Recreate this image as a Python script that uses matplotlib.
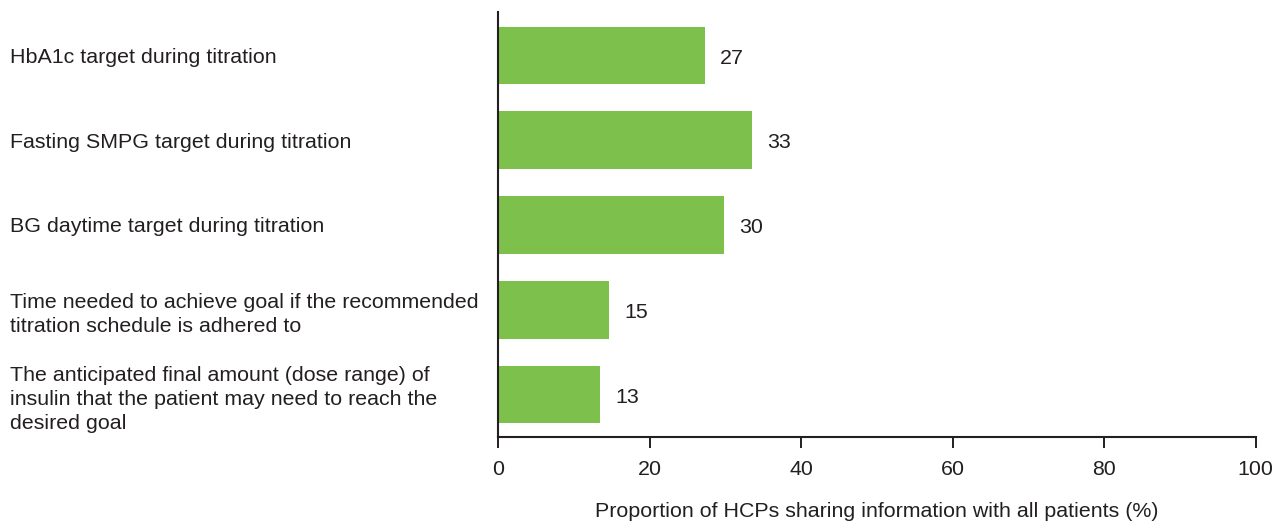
import matplotlib
matplotlib.use("Agg")
import matplotlib.pyplot as plt

categories = [
    "HbA1c target during titration",
    "Fasting SMPG target during titration",
    "BG daytime target during titration",
    "Time needed to achieve goal if the recommended\ntitration schedule is adhered to",
    "The anticipated final amount (dose range) of\ninsulin that the patient may need to reach the\ndesired goal",
]
values = [27.3, 33.5, 29.8, 14.6, 13.5]
value_labels = ["27", "33", "30", "15", "13"]
xticks = [0, 20, 40, 60, 80, 100]
xlabel = "Proportion of HCPs sharing information with all patients (%)"

plt.rcParams['font.family'] = ['Liberation Sans', 'DejaVu Sans']
txt = '#231f20'
green = '#7dc04b'
fs = 15.4

W, H = 1274, 522
fig = plt.figure(figsize=(W / 100, H / 100), dpi=100)
ax = fig.add_axes([498 / W, 1 - 436.7 / H, (1255.7 - 498) / W, (436.7 - 12) / H])

pos = list(range(len(categories)))
ax.barh(pos, values, height=0.676, color=green)
for p, v, lab in zip(pos, values, value_labels):
    ax.annotate(lab, (v, p), xytext=(11, -2), textcoords='offset points',
                ha='left', va='center', fontsize=fs, color=txt)

ax.set_xlim(0, 100)
ax.set_ylim(4.495, -0.51)
ax.set_xticks(xticks)
ax.set_xticklabels([str(t) for t in xticks], fontsize=fs, color=txt)
ax.set_yticks(pos)
ax.set_yticklabels(categories, fontsize=fs, color=txt, ha='left', linespacing=1.33)
ax.tick_params(axis='y', length=0, pad=(498 - 10) * 0.72)
ax.tick_params(axis='x', length=8, width=1.4, color=txt, pad=9)
for s in ['top', 'right']:
    ax.spines[s].set_visible(False)
for s in ['left', 'bottom']:
    ax.spines[s].set_linewidth(1.5)
    ax.spines[s].set_color(txt)
ax.set_xlabel(xlabel, fontsize=fs, color=txt, labelpad=16)

fig.savefig("out.png", dpi=100)
